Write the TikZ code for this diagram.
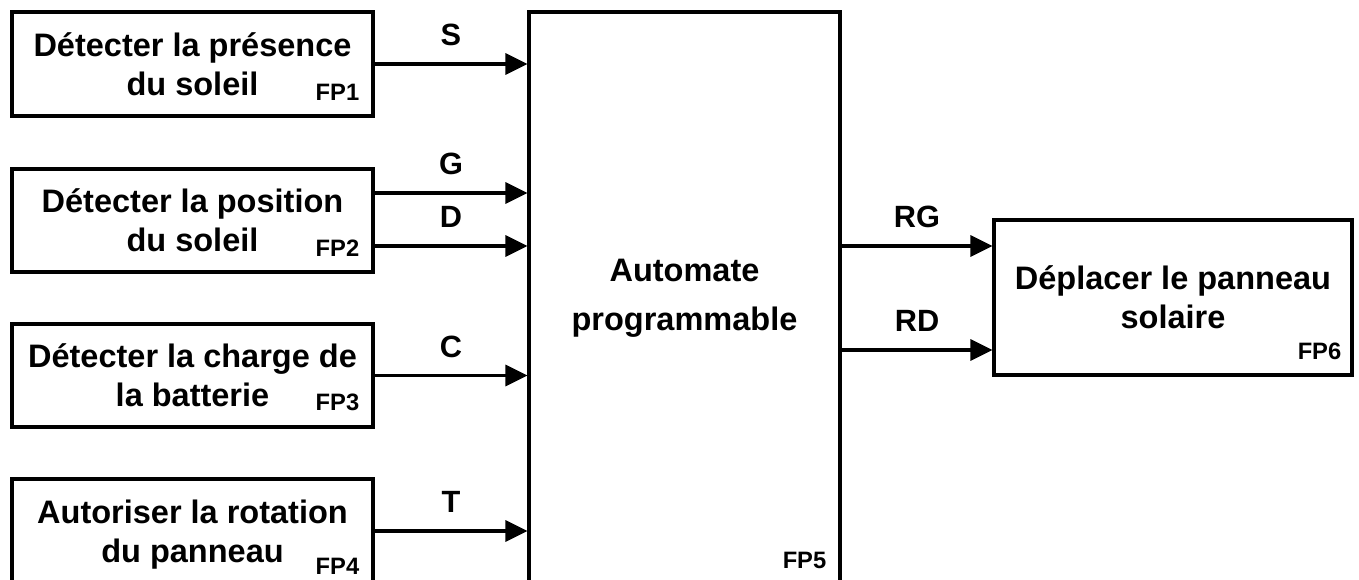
\documentclass[tikz,border=0pt]{standalone}
\usepackage{fontspec}
\setmainfont{Liberation Sans}
\usetikzlibrary{arrows.meta}

\begin{document}
\begin{tikzpicture}[x=0.02cm, y=-0.02cm,
  box/.style={draw, line width=0.065cm, align=center, inner sep=0pt,
    font=\bfseries\fontsize{18.5}{22}\selectfont},
  fp/.style={anchor=south east, inner sep=0pt, font=\bfseries\fontsize{13.5}{16}\selectfont},
  sig/.style={midway, above=0.33cm, inner sep=0pt, font=\bfseries\fontsize{17.5}{21}\selectfont},
  flow/.style={line width=0.065cm, -{Triangle[length=0.44cm, width=0.42cm]}}]

\clip (0,0) rectangle (1359,580);
\fill[white] (0,0) rectangle (1359,580);

% input functions
\node[box, minimum width=7.22cm, minimum height=2.08cm] (fp1) at (192.5,64) {Détecter la présence\\du soleil};
\node[box, minimum width=7.22cm, minimum height=2.06cm] (fp2) at (192.5,220.5) {Détecter la position\\du soleil};
\node[box, minimum width=7.22cm, minimum height=2.06cm] (fp3) at (192.5,375.5) {Détecter la charge de\\la batterie};
\node[box, minimum width=7.22cm, minimum height=2.22cm] (fp4) at (192.5,534.5) {Autoriser la rotation\\du panneau};

% the PLC and the output function
\node[box, minimum width=6.22cm, minimum height=11.46cm] (fp5) at (684.5,298.5) {Automate\\[0.2cm]programmable};
\node[box, minimum width=7.16cm, minimum height=3.1cm] (fp6) at (1173,297.5) {Déplacer le panneau\\solaire};

% FP numbers
\node[fp] (n1) at ([shift={(-0.3cm,0.34cm)}]fp1.south east) {FP1};
\node[fp] (n2) at ([shift={(-0.3cm,0.34cm)}]fp2.south east) {FP2};
\node[fp] (n3) at ([shift={(-0.3cm,0.34cm)}]fp3.south east) {FP3};
\node[fp] (n4) at ([shift={(-0.3cm,0.34cm)}]fp4.south east) {FP4};
\node[fp] (n5) at ([shift={(-0.3cm,0.34cm)}]fp5.south east) {FP5};
\node[fp] (n6) at ([shift={(-0.24cm,0.34cm)}]fp6.south east) {FP6};

% signals
\coordinate (g) at ([yshift=0.55cm]fp2.east);
\coordinate (d) at ([yshift=-0.51cm]fp2.east);
\coordinate (t) at ([yshift=0.07cm]fp4.east);
\coordinate (rg) at ([yshift=1.03cm]fp6.west);
\coordinate (rd) at ([yshift=-1.05cm]fp6.west);

\draw[flow] (fp1.east) -- (fp1.east -| fp5.west) node[sig] {S};
\draw[flow] (g) -- (g -| fp5.west) node[sig] {G};
\draw[flow] (d) -- (d -| fp5.west) node[sig] {D};
\draw[flow] (fp3.east) -- (fp3.east -| fp5.west) node[sig] {C};
\draw[flow] (t) -- (t -| fp5.west) node[sig] {T};
\draw[flow] (rg -| fp5.east) -- (rg) node[sig] {RG};
\draw[flow] (rd -| fp5.east) -- (rd) node[sig] {RD};
\end{tikzpicture}
\end{document}
